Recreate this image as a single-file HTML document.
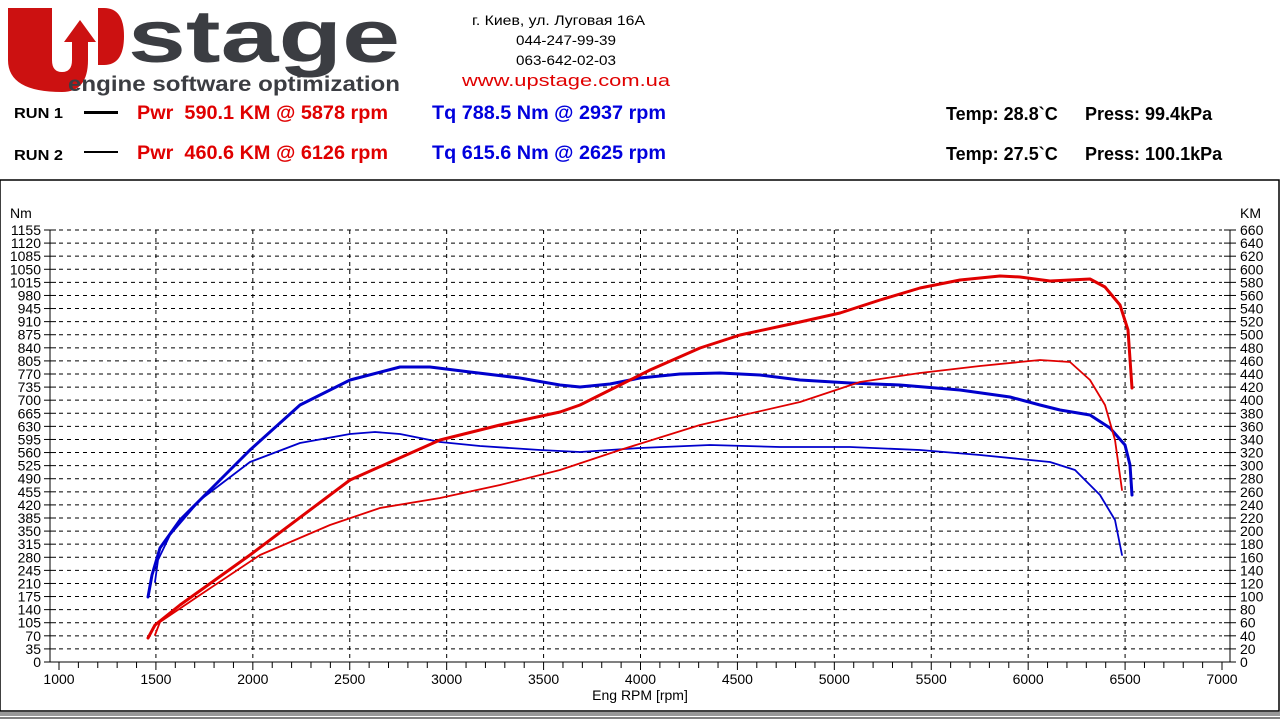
<!DOCTYPE html>
<html><head><meta charset="utf-8"><style>
body{margin:0;width:1280px;height:720px;background:#fff;overflow:hidden;position:relative;font-family:"Liberation Sans",Arial,sans-serif}
</style></head><body>
<svg width="1280" height="720" style="position:absolute;left:0;top:0" id="s" font-family="Liberation Sans, Arial, sans-serif">
<!-- logo -->
<path d="M8,8 H52 V60 Q52,72 62,72 Q72,72 72,60 V42 H64 L80,20 L96,42 H88 V60 Q88,92 62,92 Q8,92 8,60 Z" fill="#cc1111"/>
<path d="M98,8 H104 Q124,8 124,36 Q124,65 104,65 H98 Z" fill="#cc1111"/>
<text x="128" y="62" font-size="74" font-weight="bold" fill="#3b3d42" textLength="272" lengthAdjust="spacingAndGlyphs">stage</text>
<text x="68" y="91" font-size="21" font-weight="bold" fill="#3b3d42" textLength="332" lengthAdjust="spacingAndGlyphs">engine software optimization</text>
<text x="472" y="25" font-size="14" textLength="173" lengthAdjust="spacingAndGlyphs">г. Киев, ул. Луговая 16А</text>
<text x="516" y="45" font-size="14" textLength="100" lengthAdjust="spacingAndGlyphs">044-247-99-39</text>
<text x="516" y="65" font-size="14" textLength="100" lengthAdjust="spacingAndGlyphs">063-642-02-03</text>
<text x="462" y="86" font-size="17" fill="#e00000" textLength="208" lengthAdjust="spacingAndGlyphs">www.upstage.com.ua</text>
<g font-weight="bold">
<text x="14" y="118" font-size="15" textLength="49" lengthAdjust="spacingAndGlyphs">RUN 1</text>
<text x="14" y="160" font-size="15" textLength="49" lengthAdjust="spacingAndGlyphs">RUN 2</text>
<text x="137" y="119" font-size="19" fill="#e00000" textLength="251" lengthAdjust="spacingAndGlyphs">Pwr&#160; 590.1 KM @ 5878 rpm</text>
<text x="137" y="159" font-size="19" fill="#e00000" textLength="251" lengthAdjust="spacingAndGlyphs">Pwr&#160; 460.6 KM @ 6126 rpm</text>
<text x="432" y="119" font-size="19" fill="#0000dd" textLength="234" lengthAdjust="spacingAndGlyphs">Tq 788.5 Nm @ 2937 rpm</text>
<text x="432" y="159" font-size="19" fill="#0000dd" textLength="234" lengthAdjust="spacingAndGlyphs">Tq 615.6 Nm @ 2625 rpm</text>
<text x="946" y="120" font-size="18">Temp: 28.8`C</text>
<text x="1085" y="120" font-size="18">Press: 99.4kPa</text>
<text x="946" y="160" font-size="18">Temp: 27.5`C</text>
<text x="1085" y="160" font-size="18">Press: 100.1kPa</text>
</g>
<rect x="84" y="111" width="34" height="3" fill="#000"/>
<rect x="84" y="151" width="34" height="2" fill="#000"/>
<rect x="0" y="180" width="1279" height="531" fill="none" stroke="#000" stroke-width="1.5"/>
<rect x="0" y="712" width="1280" height="4" fill="#999"/>
<line x1="0" y1="718" x2="1280" y2="718" stroke="#000"/>
<g id="g"></g>
<g fill="none" stroke-linejoin="round" stroke-linecap="round">
<polyline stroke="#0000cc" stroke-width="3" points="148,597 152,575 160,548 180,520 210,490 250,450 300,405 350,380 400,367 430,367 470,372 520,378 560,385 580,387 610,384 640,378 680,374 720,373 760,375 800,380 850,383 900,385 960,390 1010,397 1040,405 1060,410 1090,415 1110,428 1125,445 1130,465 1132,495"/>
<polyline stroke="#0000cc" stroke-width="1.8" points="155,582 158,560 170,535 200,500 250,462 300,443 350,434 375,432 400,434 440,442 480,446 540,450 580,452 640,448 710,445 780,447 850,447 920,450 980,455 1050,462 1075,470 1100,495 1115,520 1122,555"/>
<polyline stroke="#e00000" stroke-width="3" points="148,638 155,625 180,605 250,555 350,480 440,440 500,425 560,412 580,405 620,385 650,370 700,348 740,335 800,322 840,313 880,300 920,288 960,280 1000,276 1020,277 1050,281 1090,279 1105,287 1120,305 1128,330 1132,388"/>
<polyline stroke="#e00000" stroke-width="1.8" points="155,635 160,622 200,595 260,555 330,525 380,508 440,498 500,485 560,470 620,450 700,425 800,402 860,382 920,373 980,366 1040,360 1070,362 1090,380 1105,405 1115,440 1122,490"/>
</g>
</svg>
<script>
var g=document.getElementById('g'),h='';
var X=r=>59+(r-1000)*1163/6000, Y0=662, dy=432/33;
for(var i=0;i<=33;i++){var y=Y0-i*dy;
 if(i>0)h+='<line x1="59" y1="'+y+'" x2="1222" y2="'+y+'" stroke="#000" stroke-dasharray="4,4" stroke-width="1"/>';
 h+='<line x1="44" y1="'+y+'" x2="56" y2="'+y+'" stroke="#000"/><line x1="1224" y1="'+y+'" x2="1236" y2="'+y+'" stroke="#000"/>';
 h+='<text x="41" y="'+(y+5)+'" font-size="14" text-anchor="end">'+(i*35)+'</text>';
 h+='<text x="1240" y="'+(y+5)+'" font-size="14">'+(i*20)+'</text>';}
for(var r=1000;r<=7000;r+=100){var x=X(r);
 h+='<line x1="'+x+'" y1="662" x2="'+x+'" y2="'+(r%500?668:670)+'" stroke="#000"/>';
 if(r%500==0){if(r>1000&&r<7000)h+='<line x1="'+x+'" y1="230" x2="'+x+'" y2="662" stroke="#000" stroke-dasharray="4,4"/>';
 h+='<text x="'+x+'" y="684" font-size="14" text-anchor="middle">'+r+'</text>';}}
h+='<line x1="50" y1="230" x2="50" y2="662" stroke="#000"/><line x1="1230" y1="230" x2="1230" y2="662" stroke="#000"/><line x1="50" y1="662" x2="1230" y2="662" stroke="#000"/>';
h+='<text x="10" y="218" font-size="14">Nm</text><text x="1240" y="218" font-size="14">KM</text><text x="640" y="700" font-size="14" text-anchor="middle">Eng RPM [rpm]</text>';
g.innerHTML=h;
</script>
</body></html>
